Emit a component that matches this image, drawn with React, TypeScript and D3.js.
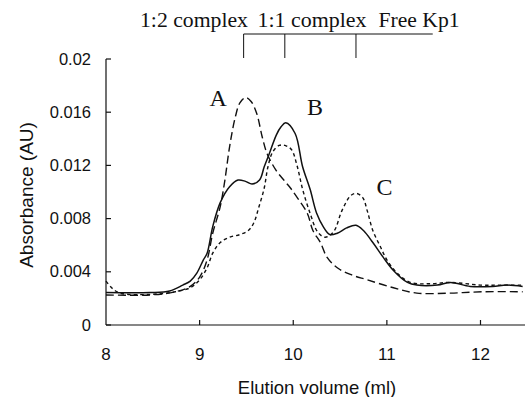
import React from "react";
import * as d3 from "d3";

// Curve A (long dashed)
const curveA_ml = [8.0, 8.47, 8.74, 8.9, 9.0, 9.08, 9.14, 9.22, 9.27, 9.32, 9.38, 9.43, 9.49, 9.55, 9.61, 9.67, 9.72, 9.81, 9.91, 9.97, 10.05, 10.15, 10.21, 10.29, 10.36, 10.47, 10.61, 10.79, 11.07, 11.32, 11.68, 12.03, 12.45];
const curveA_abs = [0.00226, 0.00226, 0.0025, 0.0029, 0.0036, 0.0049, 0.0069, 0.0089, 0.0109, 0.0134, 0.0156, 0.0167, 0.0171, 0.0168, 0.0159, 0.0141, 0.0129, 0.0117, 0.0108, 0.0103, 0.0095, 0.0084, 0.0071, 0.0062, 0.0051, 0.0043, 0.0038, 0.0034, 0.0028, 0.0024, 0.0024, 0.0025, 0.0025];

// Curve B (solid)
const curveB_ml = [8.0, 8.47, 8.68, 8.82, 8.9, 8.97, 9.04, 9.08, 9.14, 9.22, 9.32, 9.41, 9.49, 9.56, 9.64, 9.69, 9.74, 9.82, 9.87, 9.92, 10.02, 10.1, 10.18, 10.25, 10.32, 10.39, 10.47, 10.57, 10.67, 10.75, 10.85, 10.96, 11.07, 11.22, 11.32, 11.54, 11.68, 11.89, 12.13, 12.28, 12.45];
const curveB_abs = [0.00244, 0.00244, 0.00256, 0.003, 0.0033, 0.0039, 0.0049, 0.0054, 0.0074, 0.0092, 0.0104, 0.0109, 0.0108, 0.0106, 0.0109, 0.0119, 0.0128, 0.0143, 0.0149, 0.0152, 0.0144, 0.0119, 0.0102, 0.0084, 0.0074, 0.0068, 0.0069, 0.0073, 0.0075, 0.0071, 0.0062, 0.0051, 0.0041, 0.0032, 0.003, 0.003, 0.0032, 0.0029, 0.0029, 0.003, 0.0029];

// Curve C (short dashed)
const curveC_ml = [8.0, 8.06, 8.15, 8.47, 8.74, 8.9, 9.0, 9.08, 9.14, 9.22, 9.32, 9.43, 9.52, 9.58, 9.63, 9.69, 9.73, 9.78, 9.85, 9.91, 9.98, 10.04, 10.1, 10.18, 10.26, 10.34, 10.43, 10.52, 10.61, 10.67, 10.74, 10.79, 10.85, 10.93, 11.0, 11.11, 11.25, 11.46, 11.68, 12.0, 12.21, 12.45];
const curveC_abs = [0.0033, 0.0028, 0.0024, 0.0023, 0.0025, 0.0028, 0.0034, 0.0043, 0.0054, 0.0062, 0.0066, 0.0068, 0.0071, 0.0077, 0.0088, 0.0103, 0.0119, 0.013, 0.0135, 0.0135, 0.0132, 0.012, 0.0102, 0.0084, 0.007, 0.0066, 0.007, 0.0086, 0.0097, 0.0099, 0.0096, 0.0086, 0.0071, 0.0059, 0.0049, 0.0039, 0.0032, 0.0031, 0.0032, 0.003, 0.003, 0.003];

const xTicks = [8, 9, 10, 11, 12];
const yTicks = [0, 0.004, 0.008, 0.012, 0.016, 0.02];
const yTickLabels = ["0", "0.004", "0.008", "0.012", "0.016", "0.02"];

// Top bracket markers (elution positions)
const markerLabels = ["1:2 complex", "1:1 complex", "Free Kp1"];
const markerPositions = [9.47, 9.91, 10.67];
const bracketEnd = 11.49;

const peakLabels = ["A", "B", "C"];
const peakLabelX = [9.197, 10.233, 10.975];
const peakLabelY = [0.01647, 0.01579, 0.00977];

const W = 525;
const H = 397;

export default function App() {
  const x = d3.scaleLinear().domain([8, 12.47]).range([106, 524.5]);
  const y = d3.scaleLinear().domain([0, 0.02]).range([325, 59]);

  const mk = (xs: number[], ys: number[]) =>
    d3
      .line<number>()
      .x((_, i) => x(xs[i]))
      .y((d) => y(d))
      .curve(d3.curveCatmullRom.alpha(0.5))(ys) as string;

  const sans = "'Liberation Sans', Arial, sans-serif";
  const serif = "'Liberation Serif', 'Times New Roman', serif";
  const ink = "#111";
  const topY = 34;
  const topTickBottom = 58;
  const labelCenters = [194, 312, 419];
  const labelLengths = [108, 109, 81];

  return (
    <svg
      width={W}
      height={H}
      style={{ position: "absolute", left: 0, top: 0, background: "#fff" }}
    >
      <rect width={W} height={H} fill="#fff" />
      {/* axes */}
      <line x1={x(8)} x2={x(8)} y1={y(0)} y2={y(0.02)} stroke={ink} strokeWidth={1.2} />
      <line x1={x(8)} x2={W} y1={y(0)} y2={y(0)} stroke={ink} strokeWidth={1.2} />
      {yTicks.map((t, i) => (
        <g key={"y" + i}>
          <line x1={x(8)} x2={x(8) + 5} y1={y(t)} y2={y(t)} stroke={ink} strokeWidth={1.2} />
          <text x={91} y={y(t) + 5.5} textAnchor="end" fontFamily={sans} fontSize={16.5} fill={ink}>
            {yTickLabels[i]}
          </text>
        </g>
      ))}
      {xTicks.map((t, i) => (
        <g key={"x" + i}>
          {i > 0 && (
            <line x1={x(t)} x2={x(t)} y1={y(0)} y2={y(0) - 5} stroke={ink} strokeWidth={1.2} />
          )}
          <text x={x(t)} y={360} textAnchor="middle" fontFamily={sans} fontSize={17} fill={ink}>
            {String(t)}
          </text>
        </g>
      ))}
      <text x={317} y={394} textAnchor="middle" fontFamily={sans} fontSize={18.5} fill={ink}>
        Elution volume (ml)
      </text>
      <text
        transform={`translate(33, 195) rotate(-90)`}
        textAnchor="middle"
        fontFamily={sans}
        fontSize={19}
        fill={ink}
      >
        Absorbance (AU)
      </text>

      {/* top bracket */}
      <line x1={x(markerPositions[0])} x2={x(bracketEnd)} y1={topY} y2={topY} stroke={ink} strokeWidth={1} />
      {markerPositions.map((m, i) => (
        <line key={"m" + i} x1={x(m)} x2={x(m)} y1={topY} y2={topTickBottom} stroke={ink} strokeWidth={1} />
      ))}
      {markerLabels.map((l, i) => (
        <text
          key={"ml" + i}
          x={labelCenters[i]}
          y={27}
          textAnchor="middle"
          fontFamily={serif}
          fontSize={20}
          textLength={labelLengths[i]}
          lengthAdjust="spacingAndGlyphs"
          fill={ink}
        >
          {l}
        </text>
      ))}

      {/* curves */}
      <path d={mk(curveA_ml, curveA_abs)} fill="none" stroke={ink} strokeWidth={1.4} strokeDasharray="8,4" />
      <path d={mk(curveB_ml, curveB_abs)} fill="none" stroke={ink} strokeWidth={1.5} />
      <path d={mk(curveC_ml, curveC_abs)} fill="none" stroke={ink} strokeWidth={1.4} strokeDasharray="3.5,3" />

      {peakLabels.map((l, i) => (
        <text key={"p" + i} x={x(peakLabelX[i])} y={y(peakLabelY[i])} textAnchor="middle" fontFamily={serif} fontSize={24} fill={ink}>
          {l}
        </text>
      ))}
    </svg>
  );
}
